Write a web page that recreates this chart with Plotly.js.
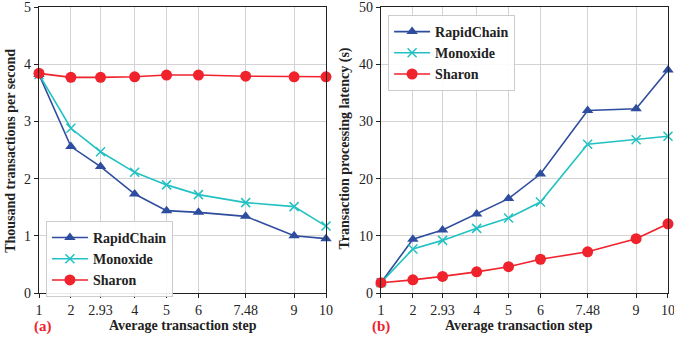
<!DOCTYPE html>
<html><head><meta charset="utf-8">
<script src="https://cdn.plot.ly/plotly-3.0.1.min.js"></script>
<style>html,body{margin:0;padding:0;background:#fff}#c{width:674px;height:339px}</style>
</head><body><div id="c"></div>
<script>
const steps = [1, 2, 2.93, 4, 5, 6, 7.48, 9, 10];
const tickLabels = ['1', '2', '2.93', '4', '5', '6', '7.48', '9', '10'];
const seriesNames = ['RapidChain', 'Monoxide', 'Sharon'];
// (a) throughput, thousand tx/s
const tputRapid = [3.82, 2.56, 2.21, 1.73, 1.44, 1.41, 1.34, 1.00, 0.95];
const tputMono = [3.82, 2.88, 2.47, 2.11, 1.89, 1.72, 1.58, 1.51, 1.17];
const tputSharon = [3.84, 3.77, 3.77, 3.78, 3.81, 3.81, 3.79, 3.78, 3.78];
// (b) latency, s
const latRapid = [1.8, 9.4, 11.0, 13.8, 16.5, 20.8, 31.9, 32.2, 39.0];
const latMono = [1.8, 7.7, 9.2, 11.3, 13.1, 15.9, 26.0, 26.8, 27.4];
const latSharon = [1.8, 2.3, 2.9, 3.7, 4.6, 5.9, 7.2, 9.5, 12.1];

const colors = ['#2f4d9e', '#22c1c3', '#f0222c'];
const symbols = ['triangle-up', 'x-thin-open', 'circle'];
const sizes = [10, 9, 11];
const F = '"Liberation Serif", "Times New Roman", Times, serif';

function tr(y, i, xa, ya, leg) {
  return {x: steps, y: y, xaxis: xa, yaxis: ya, legend: leg, name: seriesNames[i],
    mode: 'lines+markers', type: 'scatter', cliponaxis: false,
    line: {color: colors[i], width: 1.6},
    marker: {symbol: symbols[i], size: sizes[i], color: colors[i], line: {color: colors[i], width: i === 1 ? 1.5 : 0}}};
}
const data = [
  tr(tputRapid, 0, 'x', 'y', 'legend'), tr(tputMono, 1, 'x', 'y', 'legend'), tr(tputSharon, 2, 'x', 'y', 'legend'),
  tr(latRapid, 0, 'x2', 'y2', 'legend2'), tr(latMono, 1, 'x2', 'y2', 'legend2'), tr(latSharon, 2, 'x2', 'y2', 'legend2')
];
const tf = {family: F, size: 14, color: '#222'};
function xax(dom, anchor) {
  return {domain: dom, anchor: anchor, range: [1, 10], tickvals: steps, ticktext: tickLabels,
    showgrid: true, gridcolor: '#d3d3d3', gridwidth: 1, zeroline: false,
    showline: true, linecolor: '#222', linewidth: 1.2, mirror: true, ticklabeloverflow: 'allow',
    ticks: 'outside', ticklen: 4, tickcolor: '#222', tickfont: tf};
}
function yax(anchor, rng, dt) {
  return {domain: [0, 1], anchor: anchor, range: rng, dtick: dt, tick0: 0,
    showgrid: true, gridcolor: '#d3d3d3', gridwidth: 1, zeroline: false,
    showline: true, linecolor: '#222', linewidth: 1.2, mirror: true, ticklabeloverflow: 'allow',
    ticks: 'outside', ticklen: 4, tickcolor: '#222', tickfont: tf};
}
const leg = (x, y) => ({x: x, y: y, xanchor: 'left', yanchor: 'top', xref: 'paper', yref: 'paper',
  bgcolor: 'rgba(255,255,255,0.9)', bordercolor: '#cccccc', borderwidth: 1,
  font: {family: F, size: 14, color: '#222', weight: 'bold'}, tracegroupgap: 0, itemwidth: 36});
const ann = (text, x, y, angle, size, color) => ({text: text, x: x, y: y, xref: 'paper', yref: 'paper',
  textangle: angle, showarrow: false, xanchor: 'center', yanchor: 'middle',
  font: {family: F, size: size, color: color}});
const layout = {
  width: 674, height: 339, margin: {l: 39, r: 6, t: 7, b: 46},
  paper_bgcolor: '#fff', plot_bgcolor: '#fff', showlegend: true,
  xaxis: xax([0, 0.4563], 'y'), yaxis: yax('x', [0, 5], 1),
  xaxis2: xax([0.5437, 1], 'y2'), yaxis2: yax('x2', [0, 50], 10),
  legend: leg(0.011, 0.252), legend2: leg(0.555, 0.972),
  annotations: [
    ann('<b>Thousand transactions per second</b>', -0.0445, 0.497, -90, 14, '#222'),
    ann('<b>Transaction processing latency (s)</b>', 0.4865, 0.505, -90, 14, '#222'),
    ann('<b>Average transaction step</b>', 0.229, -0.115, 0, 14, '#222'),
    ann('<b>Average transaction step</b>', 0.763, -0.115, 0, 14, '#222'),
    ann('<b>(a)</b>', 0.0064, -0.118, 0, 15, '#f0222c'),
    ann('<b>(b)</b>', 0.5437, -0.118, 0, 15, '#f0222c')
  ]
};
Plotly.newPlot('c', data, layout, {staticPlot: true});
</script></body></html>
